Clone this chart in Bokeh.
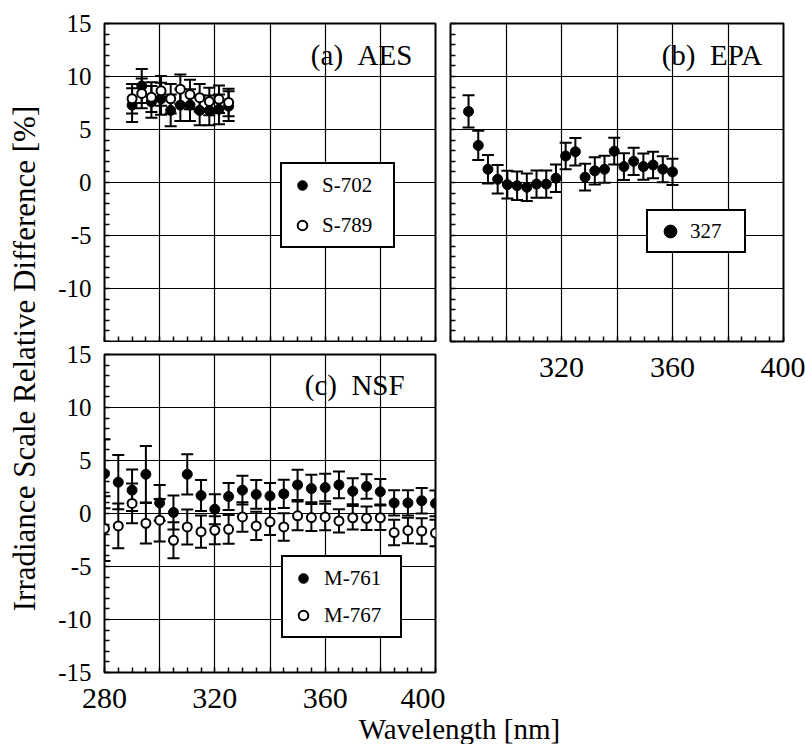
import math
from bokeh.plotting import figure
from bokeh.models import (ColumnDataSource, Whisker, TeeHead, FixedTicker, Legend,
                          LegendItem, Label, Range1d)
from bokeh.layouts import row, column
from bokeh.embed import file_html
from bokeh.resources import INLINE

FONT = "Liberation Serif"

# ---------------- data ----------------
# (a) AES
aes_wl = [290.0, 293.5, 297.0, 300.5, 304.0, 307.5, 311.0, 314.5, 318.0, 321.5, 325.0]
aes_s702 = [7.3, 9.1, 7.6, 7.9, 6.8, 7.3, 7.3, 6.8, 6.8, 6.9, 7.2]
aes_s702_err = [1.6, 1.6, 1.5, 1.5, 1.5, 1.5, 1.5, 1.4, 1.4, 1.4, 1.4]
aes_s789 = [7.9, 8.4, 8.05, 8.65, 7.9, 8.8, 8.3, 8.0, 7.65, 7.85, 7.55]
aes_s789_err = [1.4, 1.4, 1.4, 1.4, 1.4, 1.4, 1.4, 1.3, 1.3, 1.3, 1.3]

# (b) EPA
epa_wl = [286.5, 290.0, 293.5, 297.0, 300.5, 304.0, 307.5, 311.0, 314.5, 318.0, 321.5,
          325.0, 328.5, 332.0, 335.5, 339.0, 342.5, 346.0, 349.5, 353.0, 356.5, 360.0]
epa_327 = [6.7, 3.5, 1.25, 0.3, -0.2, -0.3, -0.45, -0.15, -0.15, 0.4, 2.5,
           2.9, 0.5, 1.1, 1.25, 2.95, 1.5, 2.0, 1.5, 1.65, 1.25, 1.0]
epa_327_err = [1.52, 1.38, 1.34, 1.34, 1.30, 1.34, 1.30, 1.29, 1.29, 1.30, 1.24,
               1.29, 1.26, 1.29, 1.27, 1.26, 1.26, 1.29, 1.23, 1.24, 1.23, 1.24]

# (c) NSF
nsf_wl = [280, 285, 290, 295, 300, 305, 310, 315, 320, 325, 330, 335, 340,
          345, 350, 355, 360, 365, 370, 375, 380, 385, 390, 395, 400]
nsf_m761 = [3.75, 2.95, 2.2, 3.7, 1.0, 0.1, 3.7, 1.7, 0.4, 1.6, 2.2, 1.8, 1.65,
            1.85, 2.7, 2.35, 2.45, 2.7, 2.1, 2.55, 2.05, 1.0, 1.0, 1.2, 0.95]
nsf_m761_err = [3.26, 2.56, 1.96, 2.66, 1.68, 1.6, 1.9, 1.46, 1.42, 1.27, 1.36, 1.36, 1.23,
                1.33, 1.42, 1.3, 1.3, 1.27, 1.22, 1.15, 1.2, 1.2, 1.2, 1.2, 1.22]
nsf_m767 = [-1.42, -1.17, 0.95, -0.92, -0.63, -2.53, -1.27, -1.71, -1.58, -1.49, -0.32, -1.17, -0.79,
            -1.27, -0.22, -0.38, -0.32, -0.7, -0.4, -0.45, -0.4, -1.8, -1.6, -1.65, -1.85]
nsf_m767_err = [3.05, 2.12, 1.87, 1.9, 2.0, 1.7, 1.65, 1.52, 1.33, 1.36, 1.39, 1.33, 1.23,
                1.3, 1.36, 1.27, 1.25, 1.1, 1.1, 1.1, 1.15, 1.2, 1.2, 1.2, 1.25]

# ticks
y_ticks = [-15, -10, -5, 0, 5, 10, 15]
y_minor = list(range(-15, 16))
x_ticks = [280, 300, 320, 340, 360, 380, 400]
x_minor = list(range(280, 401, 5))
x_tick_labels = ["280", "", "320", "", "360", "", "400"]
y_tick_labels = ["-15", "-10", "-5", "0", "5", "10", "15"]

x_label_text = "Wavelength [nm]"
y_label_text = "Irradiance Scale Relative Difference [%]"
titles = ["(a)\u2002AES", "(b)\u2002EPA", "(c)\u2002NSF"]


def panel(width, height, left, right, top, bottom, xlab, ylab, xfs="30px", yfs="25px",
          xstand=16, ystand=13):
    p = figure(width=width, height=height, x_range=Range1d(280, 400), y_range=Range1d(-15, 15),
               output_backend="svg", toolbar_location=None,
               min_border_left=left, min_border_right=right,
               min_border_top=top, min_border_bottom=bottom)
    p.title = None
    p.outline_line_color = "black"
    p.outline_line_width = 2
    p.outline_line_alpha = 1
    p.xaxis.ticker = FixedTicker(ticks=x_ticks, minor_ticks=x_minor)
    p.yaxis.ticker = FixedTicker(ticks=y_ticks, minor_ticks=y_minor)
    for ax in (p.xaxis[0], p.yaxis[0]):
        ax.axis_line_color = None
        ax.major_tick_in = 0
        ax.major_tick_out = 0
        ax.minor_tick_in = 5
        ax.minor_tick_out = 0
        ax.minor_tick_line_color = "black"
        ax.minor_tick_line_width = 1.5
        ax.major_label_text_font = FONT
        ax.major_label_text_color = "black"
    p.xaxis.major_label_text_font_size = xfs
    p.yaxis.major_label_text_font_size = yfs
    p.xaxis.major_label_standoff = xstand
    p.yaxis.major_label_standoff = ystand
    p.xaxis.major_label_overrides = {t: s for t, s in zip(x_ticks, xlab)}
    p.yaxis.major_label_overrides = {t: s for t, s in zip(y_ticks, ylab)}
    p.grid.grid_line_color = "black"
    p.grid.grid_line_width = 1.2
    p.grid.grid_line_alpha = 1
    p.background_fill_color = "white"
    p.border_fill_color = "white"
    return p


def series(p, x, y, err, filled):
    lower = [v - e for v, e in zip(y, err)]
    upper = [v + e for v, e in zip(y, err)]
    src = ColumnDataSource(dict(x=x, y=y, lower=lower, upper=upper))
    w = Whisker(source=src, base="x", upper="upper", lower="lower", dimension="height",
                line_color="black", line_width=2, level="underlay",
                upper_head=TeeHead(size=12, line_color="black", line_width=2),
                lower_head=TeeHead(size=12, line_color="black", line_width=2))
    p.add_layout(w)
    if filled:
        r = p.scatter("x", "y", source=src, marker="circle", size=10,
                      fill_color="black", line_color="black", line_width=1)
    else:
        r = p.scatter("x", "y", source=src, marker="circle", size=9,
                      fill_color="white", line_color="black", line_width=2)
    return r


def add_legend(p, items, loc, padding, spacing, gw, gh, standoff, lw):
    leg = Legend(items=items, location=loc, orientation="vertical",
                 border_line_color="black", border_line_width=2, border_line_alpha=1,
                 background_fill_color="white", background_fill_alpha=1,
                 padding=padding, spacing=spacing, margin=0,
                 glyph_width=gw, glyph_height=gh, label_height=gh,
                 label_standoff=standoff, label_width=lw,
                 label_text_font=FONT, label_text_font_size="21px",
                 label_text_color="black", label_text_baseline="middle")
    p.add_layout(leg)


def title(p, x, y, text):
    p.add_layout(Label(x=x, y=y, text=text, text_align="right", text_baseline="middle",
                       text_font=FONT, text_font_size="29px", text_color="black"))


blank_x = ["" for _ in x_ticks]
blank_y = ["" for _ in y_ticks]
ya_labels = [""] + y_tick_labels[1:]

# panel (a)
fa = panel(400, 342, 59, 10, 23, 1, blank_x, ya_labels, xfs="1px", xstand=0)
ra1 = series(fa, aes_wl, aes_s702, aes_s702_err, True)
ra2 = series(fa, aes_wl, aes_s789, aes_s789_err, False)
add_legend(fa, [LegendItem(label="S-702", renderers=[ra1]),
                LegendItem(label="S-789", renderers=[ra2])],
           (176, 93), 8, 14, 24, 26, 8, 63)
title(fa, 391.6, 12.0, titles[0])

# panel (b)
fb = panel(360, 714, 5, 22, 23, 373, ["", "", "320", "", "360", "", "400"], blank_y,
           ystand=0)
rb = series(fb, epa_wl, epa_327, epa_327_err, True)
add_legend(fb, [LegendItem(label="327", renderers=[rb])],
           (196, 88), 4, 0, 36, 32, 2, 50)
title(fb, 392.3, 12.0, titles[1])

# panel (c)
fc = panel(400, 372, 59, 9, 12, 42, x_tick_labels, y_tick_labels)
rc1 = series(fc, nsf_wl, nsf_m761, nsf_m761_err, True)
rc2 = series(fc, nsf_wl, nsf_m767, nsf_m767_err, False)
add_legend(fc, [LegendItem(label="M-761", renderers=[rc1]),
                LegendItem(label="M-767", renderers=[rc2])],
           (177, 34), 8, 11, 24, 26, 9, 68)
title(fc, 388.8, 12.1, titles[2])

# shared axis titles
ylab = figure(width=45, height=744, x_range=Range1d(0, 45), y_range=Range1d(0, 744),
              output_backend="svg", toolbar_location=None, min_border=0,
              x_axis_type=None, y_axis_type=None, outline_line_color=None)
ylab.title = None
ylab.grid.visible = False
ylab.add_layout(Label(x=24, y=744 - 358, text=y_label_text, angle=math.pi / 2,
                      text_align="center", text_baseline="middle",
                      text_font=FONT, text_font_size="31px", text_color="black"))

xlab = figure(width=760, height=30, x_range=Range1d(0, 760), y_range=Range1d(0, 30),
              output_backend="svg", toolbar_location=None, min_border=0,
              x_axis_type=None, y_axis_type=None, outline_line_color=None)
xlab.title = None
xlab.grid.visible = False
xlab.add_layout(Label(x=459 - 45, y=16, text=x_label_text, text_align="center",
                      text_baseline="middle", text_font=FONT, text_font_size="29px",
                      text_color="black"))

layout = row(ylab, column(row(column(fa, fc), fb), xlab))

open("out.html", "w").write(file_html(layout, INLINE))
